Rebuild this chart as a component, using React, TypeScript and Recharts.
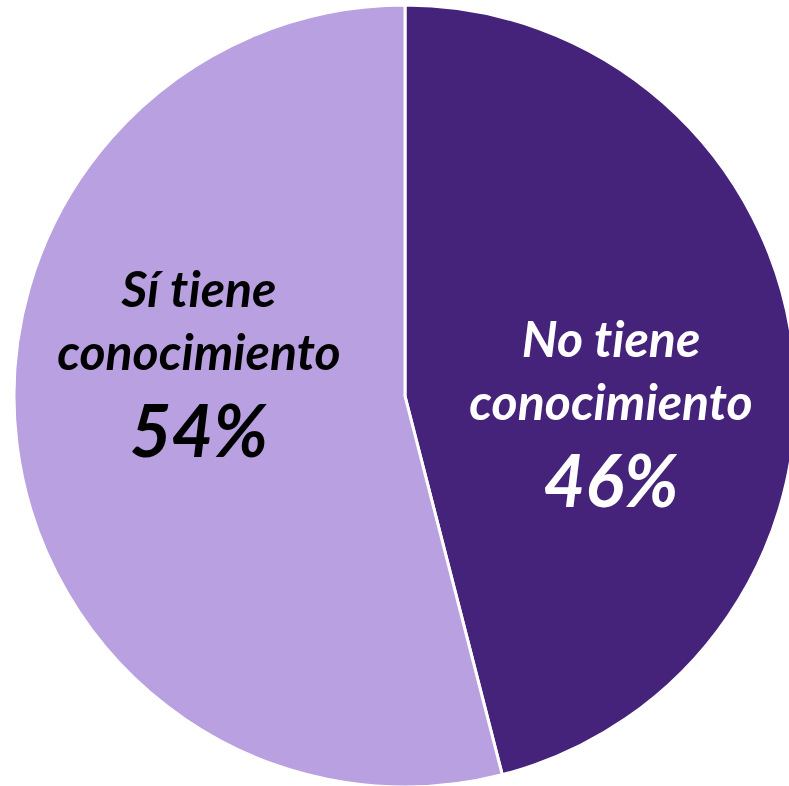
import React from "react";
import { PieChart, Pie, Cell } from "recharts";

const categories = ["No tiene conocimiento", "Sí tiene conocimiento"];
const values = [46, 54];
const percentLabels = ["46%", "54%"];
const labelLine1 = ["No tiene", "Sí tiene"];
const labelLine2 = ["conocimiento", "conocimiento"];
const colors = ["#45237A", "#B9A0E0"];
const textColors = ["#FFFFFF", "#000000"];

const data = categories.map((name, i) => ({ name, value: values[i] }));

const FONT = "Lato, 'Open Sans', sans-serif";

const renderLabel = (props: any) => {
  const { cx, cy, outerRadius, index } = props;
  const sign = index === 0 ? 1 : -1;
  const x = cx + sign * 0.527 * outerRadius;
  const base = index === 0 ? [-39, 24, 111] : [-89, -26, 61];
  const fill = textColors[index];
  const common = {
    x,
    textAnchor: "middle" as const,
    fill,
    fontFamily: FONT,
    fontWeight: 700,
    fontStyle: "italic",
    style: { fontVariantLigatures: "none", fontFeatureSettings: '"liga" 0, "dlig" 0' } as React.CSSProperties,
  };
  return (
    <g key={`lbl-${index}`}>
      <text {...common} y={cy + base[0]} fontSize={50}>
        {labelLine1[index]}
      </text>
      <text {...common} y={cy + base[1]} fontSize={50}>
        {labelLine2[index]}
      </text>
      <text {...common} y={cy + base[2]} fontSize={72}>
        {percentLabels[index]}
      </text>
    </g>
  );
};

export default function App() {
  return (
    <div style={{ position: "absolute", left: 0, top: 0, width: 789, height: 786, background: "#fff" }}>
      <PieChart width={789} height={786} margin={{ top: 0, right: 0, bottom: 0, left: 0 }}>
        <Pie
          data={data}
          dataKey="value"
          nameKey="name"
          cx={405}
          cy={396}
          outerRadius={391}
          startAngle={90}
          endAngle={-270}
          stroke="#FFFFFF"
          strokeWidth={3}
          label={renderLabel}
          labelLine={false}
          isAnimationActive={false}
        >
          {data.map((d, i) => (
            <Cell key={d.name} fill={colors[i]} />
          ))}
        </Pie>
      </PieChart>
    </div>
  );
}
